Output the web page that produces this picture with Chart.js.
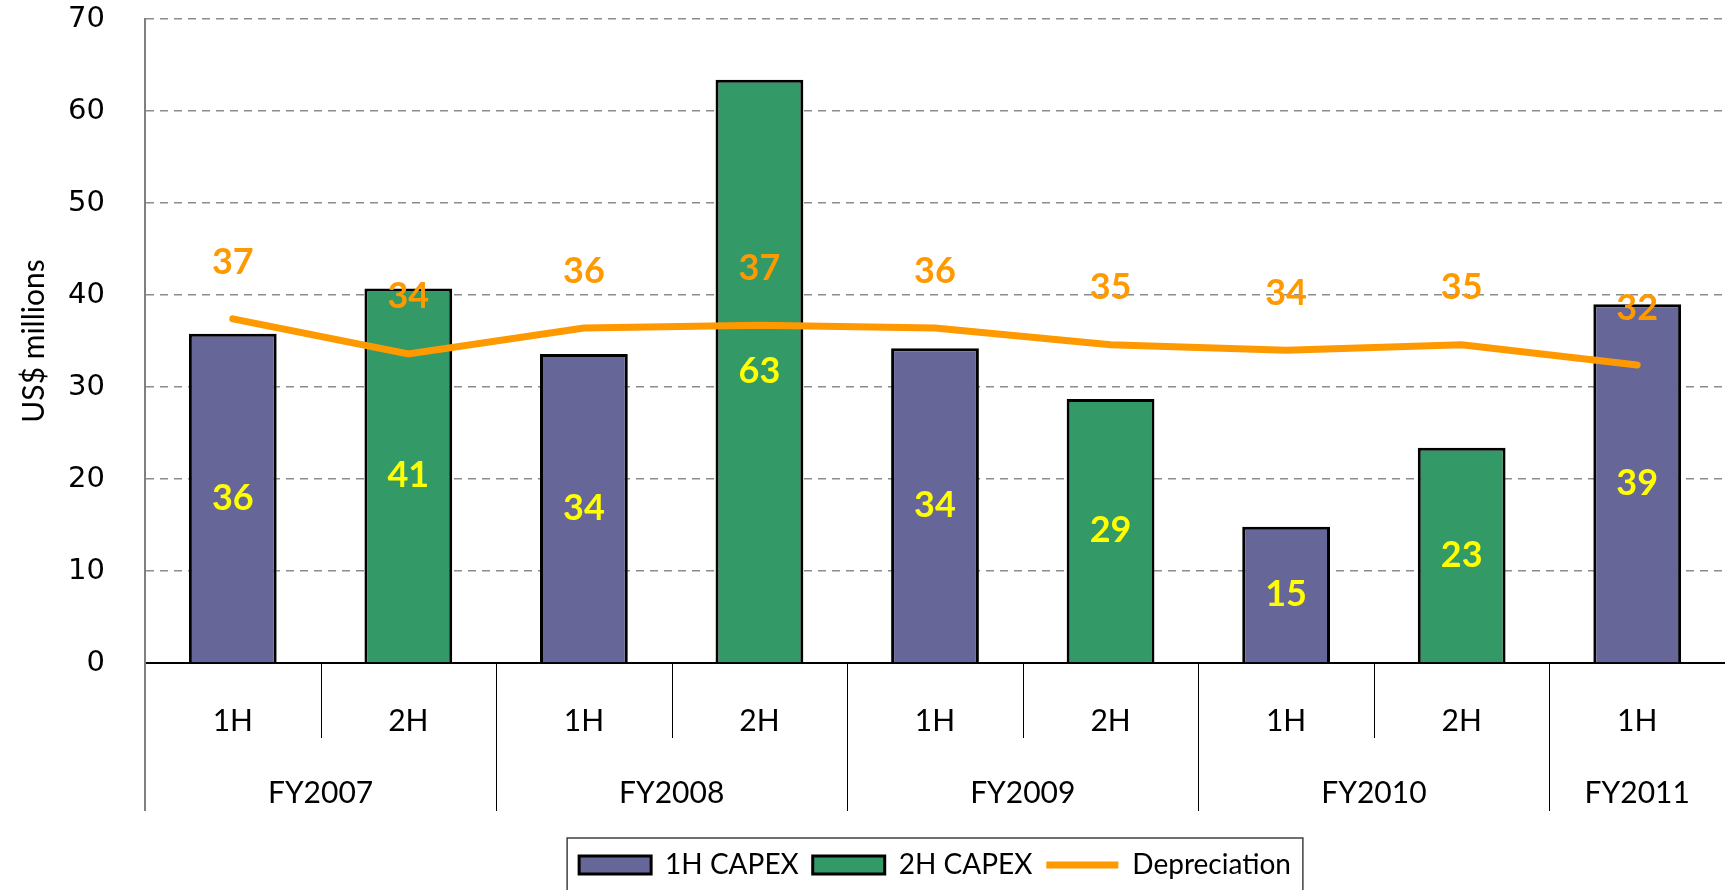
<!DOCTYPE html>
<html>
<head>
<meta charset="utf-8">
<script src="https://cdn.jsdelivr.net/npm/chart.js@4.4.0/dist/chart.umd.min.js"></script>
<style>
  html, body { margin: 0; padding: 0; background: #fff; }
  #wrap { width: 1725px; height: 890px; }
</style>
</head>
<body>
<div id="wrap"><canvas id="capexChart"></canvas></div>
<script>
// data
const halves = ['1H', '2H', '1H', '2H', '1H', '2H', '1H', '2H', '1H'];
const fiscalYears = ['FY2007', 'FY2008', 'FY2009', 'FY2010', 'FY2011'];
const yearSpans = [2, 2, 2, 2, 1];
const capex1H = [35.8, null, 33.6, null, 34.2, null, 14.8, null, 39.0];
const capex2H = [null, 40.7, null, 63.4, null, 28.7, null, 23.4, null];
const depreciation = [37.4, 33.6, 36.4, 36.7, 36.4, 34.6, 34.0, 34.6, 32.4];
const yTicks = [0, 10, 20, 30, 40, 50, 60, 70];

Chart.defaults.font.family = 'Lato';
Chart.defaults.color = '#000';

// value labels (bars: centered, line: above)
const valueLabels = {
  id: 'valueLabels',
  afterDatasetsDraw(chart) {
    const ctx = chart.ctx;
    ctx.save();
    ctx.textAlign = 'center';
    ctx.textBaseline = 'middle';
    ctx.font = 'bold 36px Lato';
    [0, 1].forEach(di => {
      const vals = chart.data.datasets[di].data;
      chart.getDatasetMeta(di).data.forEach((bar, i) => {
        if (vals[i] == null) return;
        ctx.fillStyle = '#FFFF00';
        ctx.fillText(Math.round(vals[i]), bar.x, (bar.y + bar.base) / 2);
      });
    });
    chart.getDatasetMeta(2).data.forEach((pt, i) => {
      ctx.fillStyle = '#FF9900';
      ctx.fillText(Math.round(depreciation[i]), pt.x, pt.y - 57);
    });
    ctx.restore();
  }
};

// two-level category axis + legend frame
const groupAxis = {
  id: 'groupAxis',
  afterDraw(chart) {
    const x = chart.scales.x, area = chart.chartArea, ctx = chart.ctx;
    const half = (x.getPixelForValue(1) - x.getPixelForValue(0)) / 2;
    ctx.save();
    ctx.strokeStyle = '#808080';
    ctx.lineWidth = 2;
    ctx.beginPath();
    ctx.moveTo(area.left, area.bottom);
    ctx.lineTo(area.left, area.bottom + 148);
    ctx.stroke();

    ctx.strokeStyle = '#000';
    ctx.lineWidth = 1;
    ctx.font = '30px Lato';
    ctx.fillStyle = '#000';
    ctx.textAlign = 'center';
    ctx.textBaseline = 'middle';
    let idx = 0;
    fiscalYears.forEach((fy, k) => {
      const start = idx, end = idx + yearSpans[k] - 1;
      const left = x.getPixelForValue(start) - half;
      const right = x.getPixelForValue(end) + half;
      ctx.fillText(fy, (left + right) / 2, area.bottom + 130);
      for (let j = start + 1; j <= end; j++) {
        const sx = Math.round(x.getPixelForValue(j) - half) + 0.5;
        ctx.beginPath();
        ctx.moveTo(sx, area.bottom);
        ctx.lineTo(sx, area.bottom + 75);
        ctx.stroke();
      }
      if (k > 0) {
        const lx = Math.round(left) + 0.5;
        ctx.beginPath();
        ctx.moveTo(lx, area.bottom);
        ctx.lineTo(lx, area.bottom + 148);
        ctx.stroke();
      }
      idx += yearSpans[k];
    });

    const boxes = chart.legend.legendHitBoxes;
    if (boxes && boxes.length) {
      const l = Math.min(...boxes.map(b => b.left)) - 12;
      const r = Math.max(...boxes.map(b => b.left + b.width)) + 12;
      const cy = boxes[0].top + boxes[0].height / 2;
      ctx.strokeStyle = '#404040';
      ctx.lineWidth = 1.5;
      ctx.strokeRect(l, cy - 27, r - l, 56);
    }
    ctx.restore();
  }
};

new Chart(document.getElementById('capexChart'), {
  data: {
    labels: halves,
    datasets: [
      {
        type: 'bar', label: '1H CAPEX', data: capex1H,
        backgroundColor: '#666699', borderColor: '#000', borderWidth: 3,
        grouped: false, barPercentage: 0.5, categoryPercentage: 1,
        pointStyle: 'rect', order: 1
      },
      {
        type: 'bar', label: '2H CAPEX', data: capex2H,
        backgroundColor: '#339966', borderColor: '#000', borderWidth: 3,
        grouped: false, barPercentage: 0.5, categoryPercentage: 1,
        pointStyle: 'rect', order: 1
      },
      {
        type: 'line', label: 'Depreciation', data: depreciation,
        borderColor: '#FF9900', backgroundColor: '#FF9900', borderWidth: 7,
        borderCapStyle: 'round', tension: 0, pointRadius: 0,
        pointStyle: 'line', order: 0
      }
    ]
  },
  options: {
    responsive: true,
    maintainAspectRatio: false,
    animation: false,
    layout: { padding: { top: 19, left: 0, right: 0, bottom: 1 } },
    plugins: {
      tooltip: { enabled: false },
      legend: {
        position: 'bottom',
        fullSize: false,
        labels: {
          usePointStyle: true, pointStyleWidth: 72, boxHeight: 18,
          font: { size: 28 }, color: '#000', padding: 14,
          sort: (a, b) => a.datasetIndex - b.datasetIndex
        }
      }
    },
    scales: {
      x: {
        offset: true,
        grid: { display: false, drawTicks: false },
        border: { color: '#000', width: 2 },
        ticks: { font: { size: 30 }, color: '#000', padding: 40, maxRotation: 0, autoSkip: false },
        afterFit: s => { s.height = 174; }
      },
      y: {
        min: 0, max: 70,
        afterFit: s => { s.width = 145; },
        afterBuildTicks: s => { s.ticks = yTicks.map(v => ({ value: v })); },
        ticks: { font: { family: 'DejaVu Sans', size: 29, lineHeight: 1 }, color: '#000', padding: 0 },
        grid: {
          drawTicks: true, tickLength: 40, tickColor: 'rgba(0,0,0,0)', lineWidth: 1.5,
          color: c => (c.tick && c.tick.value === 0) ? '#000' : '#8c8c8c'
        },
        border: {
          color: '#808080', width: 2,
          dash: c => (c.tick && c.tick.value !== 0) ? [8, 6] : []
        },
        title: {
          display: true, text: 'US$ millions', color: '#000',
          font: { size: 30 }, padding: { top: 16, bottom: 0 }
        }
      }
    }
  },
  plugins: [valueLabels, groupAxis]
});
</script>
</body>
</html>
